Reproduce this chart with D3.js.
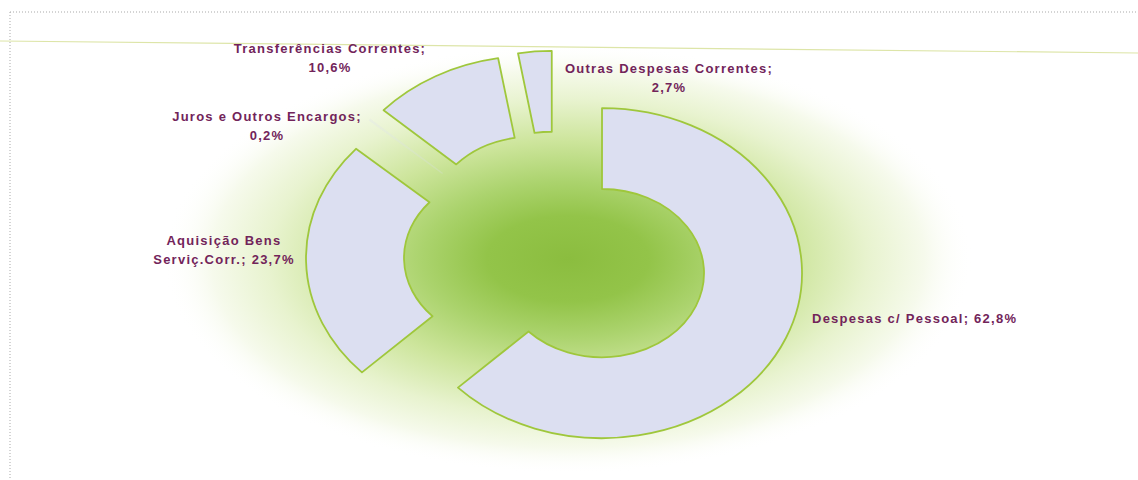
<!DOCTYPE html>
<html>
<head>
<meta charset="utf-8">
<script src="https://cdn.jsdelivr.net/npm/d3@7"></script>
<style>
  html, body { margin: 0; padding: 0; background: #fff; }
  svg { display: block; }
  .lbl { font-family: "Liberation Sans", Arial, sans-serif; font-size: 13px; font-weight: bold; letter-spacing: 1.25px; fill: #72245a; }
</style>
</head>
<body>
<div id="chart"></div>
<script>
'use strict';

// data
var categories = ["Despesas c/ Pessoal", "Aquisição Bens Serviç.Corr.", "Juros e Outros Encargos", "Transferências Correntes", "Outras Despesas Correntes"];
var values = [62.8, 23.7, 0.2, 10.6, 2.7];
// word after which the label wraps ("" = single line)
var breakAfter = ["", "Bens", ";", ";", ";"];

var width = 1138, height = 480;
var cx = 556, cy = 257;       // donut centre
var rx = 200, ry = 165;       // outer radii (flattened ellipse)
var innerRatio = 0.51;
var explode = 0.25;

// label anchors, in units of the outer radii, relative to the centre
var labelPos = [[1.28, 0.37, "start"], [-1.66, -0.042, "middle"], [-1.445, -0.797, "middle"], [-1.13, -1.209, "middle"], [0.565, -1.085, "middle"]];

function fmt(v) {
  return d3.format(".1f")(v).replace(".", ",") + "%";
}

var svg = d3.select("#chart").append("svg")
  .attr("width", width)
  .attr("height", height);

var defs = svg.append("defs");
var grad = defs.append("radialGradient")
  .attr("id", "bg")
  .attr("cx", "50%").attr("cy", "50%").attr("r", "50%");
var stops = [[0, "#8bbd3f", 1], [0.2, "#93c449", 1], [0.36, "#abd36d", 1], [0.55, "#cde59c", 1], [0.74, "#e8f3cf", 1], [0.88, "#f6faec", 1], [1, "#ffffff", 0]];
stops.forEach(function (s) {
  grad.append("stop")
    .attr("offset", s[0])
    .attr("stop-color", s[1])
    .attr("stop-opacity", s[2]);
});

// background glow
svg.append("ellipse")
  .attr("cx", cx + 12).attr("cy", cy + 2)
  .attr("rx", 405).attr("ry", 215)
  .attr("fill", "url(#bg)");

// frame bits from the scanned page
svg.append("line")
  .attr("x1", 10).attr("y1", 12).attr("x2", width).attr("y2", 12)
  .attr("stroke", "#a9a9a9").attr("stroke-dasharray", "1,2");
svg.append("line")
  .attr("x1", 10).attr("y1", 12).attr("x2", 10).attr("y2", height)
  .attr("stroke", "#a9a9a9").attr("stroke-dasharray", "1,2");
svg.append("line")
  .attr("x1", 0).attr("y1", 41).attr("x2", width).attr("y2", 53)
  .attr("stroke", "#dde5a8").attr("stroke-width", 1.2);

var pie = d3.pie().sort(null).value(function (d) { return d; });
var arcs = pie(values);

var arc = d3.arc()
  .innerRadius(ry * innerRatio)
  .outerRadius(ry);

var g = svg.append("g")
  .attr("transform", "translate(" + cx + "," + cy + ") scale(" + (rx / ry) + ",1)");

g.selectAll("path.slice")
  .data(arcs)
  .enter().append("path")
  .attr("class", "slice")
  .attr("transform", function (d) {
    var m = (d.startAngle + d.endAngle) / 2;
    return "translate(" + (Math.sin(m) * ry * explode) + "," + (-Math.cos(m) * ry * explode) + ")";
  })
  .attr("d", arc)
  .attr("fill", "#dcdff1")
  .attr("fill-opacity", function (d) { return d.value < 1 ? 0.25 : 1; })
  .attr("stroke", function (d) { return d.value < 1 ? "none" : "#9fc73c"; })
  .attr("stroke-width", 1.8)
  .attr("vector-effect", "non-scaling-stroke")
  .attr("stroke-linejoin", "round");

// labels
var lineH = 19;
categories.forEach(function (cat, i) {
  var full = cat + "; " + fmt(values[i]);
  var lines = [full];
  if (breakAfter[i]) {
    var k = full.indexOf(breakAfter[i]) + breakAfter[i].length;
    lines = [full.slice(0, k), full.slice(k).trim()];
  }
  var p = labelPos[i];
  var x = cx + p[0] * rx, y = cy + p[1] * ry;
  var t = svg.append("text")
    .attr("class", "lbl")
    .attr("text-anchor", p[2]);
  lines.forEach(function (ln, j) {
    t.append("tspan")
      .attr("x", x)
      .attr("y", y + (j - (lines.length - 1) / 2) * lineH)
      .attr("dy", "0.35em")
      .text(ln);
  });
});
</script>
</body>
</html>
